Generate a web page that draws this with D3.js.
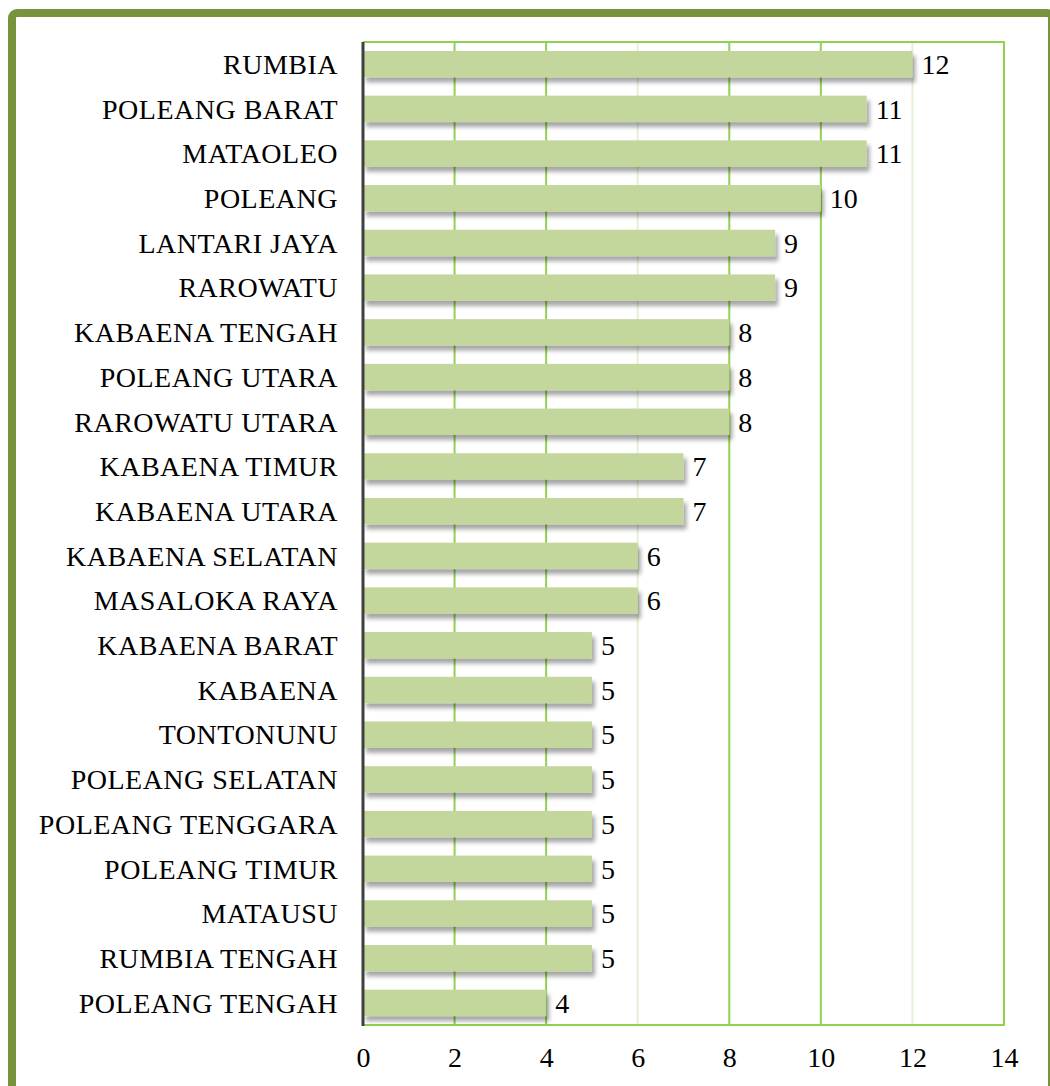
<!DOCTYPE html>
<html><head><meta charset="utf-8">
<script src="https://cdn.jsdelivr.net/npm/d3@7"></script>
<style>html,body{margin:0;padding:0;background:#fff;overflow:hidden;}</style>
</head><body>
<script>
const categories = ["RUMBIA","POLEANG BARAT","MATAOLEO","POLEANG","LANTARI JAYA","RAROWATU","KABAENA TENGAH","POLEANG UTARA","RAROWATU UTARA","KABAENA TIMUR","KABAENA UTARA","KABAENA SELATAN","MASALOKA RAYA","KABAENA BARAT","KABAENA","TONTONUNU","POLEANG SELATAN","POLEANG TENGGARA","POLEANG TIMUR","MATAUSU","RUMBIA TENGAH","POLEANG TENGAH"];
const values = [12,11,11,10,9,9,8,8,8,7,7,6,6,5,5,5,5,5,5,5,5,4];
const xTicks = [0,2,4,6,8,10,12,14];
const faintTicks = [6,12];

(function(){
const W = 1050, H = 1086;
const svg = d3.select("body").append("svg").attr("width", W).attr("height", H).style("display","block");
const defs = svg.append("defs");
const f = defs.append("filter").attr("id","sh").attr("x","-5%").attr("y","-30%").attr("width","115%").attr("height","180%");
f.append("feDropShadow").attr("dx",3).attr("dy",5).attr("stdDeviation",2).attr("flood-color","#000").attr("flood-opacity",0.35);

// frame
svg.append("rect").attr("x",12).attr("y",13).attr("width",1040).attr("height",1100).attr("rx",5)
  .attr("fill","#fff").attr("stroke","#77933c").attr("stroke-width",8);

const pL = 363, pR = 1004, pT = 42, pB = 1025;
const x = d3.scaleLinear().domain([0,14]).range([pL,pR]);
const y = d3.scaleBand().domain(categories).range([pT,pB]).paddingInner(0.41).paddingOuter(0.2);

const font = "'Liberation Serif','Times New Roman',serif";

// gridlines
svg.append("g").selectAll("line").data(xTicks.filter(t=>t>0 && t<14)).join("line")
  .attr("x1",d=>x(d)).attr("x2",d=>x(d)).attr("y1",pT).attr("y2",pB)
  .attr("stroke",d=>faintTicks.includes(d)?"#e3f1d5":"#92d050").attr("stroke-width",2);
// plot border
svg.append("path").attr("d",`M${pL},${pT}H${pR}V${pB}H${pL}`)
  .attr("fill","none").attr("stroke","#92d050").attr("stroke-width",2);

// bars
svg.append("g").selectAll("rect").data(values).join("rect")
  .attr("x",x(0)).attr("y",(d,i)=>y(categories[i]))
  .attr("width",d=>x(d)-x(0)).attr("height",y.bandwidth())
  .attr("fill","#c3d69b").attr("filter","url(#sh)");

// left axis line
svg.append("line").attr("x1",pL).attr("x2",pL).attr("y1",pT).attr("y2",pB+1)
  .attr("stroke","#404040").attr("stroke-width",3);

// value labels
svg.append("g").selectAll("text").data(values).join("text")
  .attr("x",d=>x(d)+9).attr("y",(d,i)=>y(categories[i])+y.bandwidth()/2)
  .attr("dy","0.35em").attr("font-family",font).attr("font-size",28).attr("fill","#000")
  .text(d=>d);

// category labels via axis
const yAxis = svg.append("g").attr("transform",`translate(${pL-25},0)`)
  .call(d3.axisLeft(y).tickSize(0).tickPadding(0));
yAxis.select(".domain").remove();
yAxis.selectAll("text").attr("font-family",font).attr("font-size",28).attr("fill","#000")
  .attr("letter-spacing","0.5px").attr("dy","0.35em");

// x axis labels
const xAxis = svg.append("g").attr("transform",`translate(0,${pB})`)
  .call(d3.axisBottom(x).tickValues(xTicks).tickSize(0).tickPadding(22));
xAxis.select(".domain").remove();
xAxis.selectAll("text").attr("font-family",font).attr("font-size",28).attr("fill","#000");
})();
</script>
</body></html>
